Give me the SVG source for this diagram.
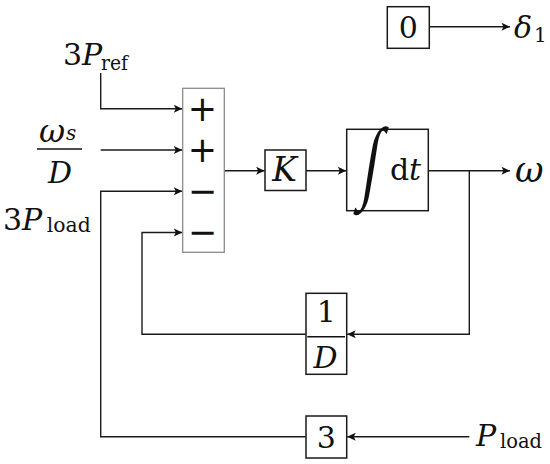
<svg xmlns="http://www.w3.org/2000/svg" width="550" height="464" viewBox="0 0 550 464">
<defs>
<style>
.t{font-family:"DejaVu Serif","Liberation Serif",serif;fill:#111}
.m{font-size:30px}
.i{font-style:italic}
.s{font-size:20px}
.pm{font-family:"DejaVu Sans",sans-serif;font-size:35px;fill:#111}
.box{fill:none;stroke:#1a1a1a;stroke-width:1.5}
.sum{fill:none;stroke:#8c8c8c;stroke-width:1.3}
.c{fill:none;stroke:#1a1a1a;stroke-width:1.4}
.bar{stroke:#111;stroke-width:1.6}
</style>
<marker id="ah" markerUnits="userSpaceOnUse" markerWidth="10" markerHeight="10" refX="9" refY="5" orient="auto">
<path d="M0.5,1 L9,5 L0.5,9 L2.5,5 Z" fill="#111"/>
</marker>
</defs>
<rect width="550" height="464" fill="#fff"/>

<g id="connectors">
<path class="c" d="M100.7,73 V108.7 H182.3" marker-end="url(#ah)"/>
<path class="c" d="M100.7,150 H182.3" marker-end="url(#ah)"/>
<path class="c" d="M305.7,436.7 H100.7 V191.3 H182.3" marker-end="url(#ah)"/>
<path class="c" d="M305.7,334.3 H142 V232.5 H182.3" marker-end="url(#ah)"/>
<path class="c" d="M224.3,170.7 H264.6" marker-end="url(#ah)"/>
<path class="c" d="M306,170.7 H346.3" marker-end="url(#ah)"/>
<path class="c" d="M428.3,170.7 H510" marker-end="url(#ah)"/>
<path class="c" d="M469.3,170.7 V334.3 H347.2" marker-end="url(#ah)"/>
<path class="c" d="M429.3,26.7 H510" marker-end="url(#ah)"/>
<path class="c" d="M469.3,436.7 H347.2" marker-end="url(#ah)"/>
</g>

<g id="in_pref">
<text class="t m" x="63" y="65">3<tspan class="i">P</tspan></text>
<text class="t s" x="101" y="70" textLength="27" lengthAdjust="spacingAndGlyphs">ref</text>
</g>

<g id="in_ws">
<text class="t i" x="39" y="142" style="font-size:32px">ω<tspan class="s" x="66" y="140">s</tspan></text>
<line class="bar" x1="37" y1="149" x2="82" y2="149"/>
<text class="t i m" x="60" y="182.7" text-anchor="middle">D</text>
</g>

<g id="in_pload3">
<text class="t m" x="3" y="230">3<tspan class="i">P</tspan></text>
<text class="t s" x="46.7" y="232.3" textLength="44" lengthAdjust="spacingAndGlyphs">load</text>
</g>

<g id="sum">
<rect class="sum" x="182.7" y="88.3" width="41.6" height="164"/>
<text class="pm" x="202.5" y="121" text-anchor="middle">+</text>
<text class="pm" x="202.5" y="161.7" text-anchor="middle">+</text>
<text class="pm" x="202.5" y="203.3" text-anchor="middle">−</text>
<text class="pm" x="202.5" y="244" text-anchor="middle">−</text>
</g>

<g id="gainK">
<rect class="box" x="265" y="150" width="41" height="40.5"/>
<text class="t i" x="284.5" y="181" style="font-size:33px" text-anchor="middle">K</text>
</g>

<g id="integrator">
<rect class="box" x="346.7" y="129.3" width="81.6" height="81.4"/>
<text font-family="Liberation Serif, serif" fill="#111" font-size="64" text-anchor="middle" transform="translate(368,190.5) scale(0.9,1.42) skewX(-14)">∫</text>
<text class="t m" x="390" y="180">d</text>
<text class="t m i" x="409" y="180">t</text>
</g>

<g id="out_w">
<text class="t i" x="515" y="182" style="font-size:35px">ω</text>
</g>

<g id="zero">
<rect class="box" x="387.3" y="6.7" width="42" height="41.6"/>
<text class="t m" x="408.3" y="38.3" text-anchor="middle">0</text>
</g>

<g id="out_delta">
<text class="t i m" x="514" y="38.3">δ</text>
<text class="t s" x="534" y="42">1</text>
</g>

<g id="invD">
<rect class="box" x="306" y="293.3" width="40.7" height="81"/>
<text class="t m" x="326.3" y="322.3" text-anchor="middle">1</text>
<line class="bar" x1="307.3" y1="336.7" x2="345" y2="336.7"/>
<text class="t i m" x="325.5" y="368.3" text-anchor="middle">D</text>
</g>

<g id="three">
<rect class="box" x="306" y="416" width="40.7" height="42"/>
<text class="t m" x="326.3" y="447.5" text-anchor="middle">3</text>
</g>

<g id="in_pload">
<text class="t i m" x="476" y="446">P</text>
<text class="t s" x="500" y="447.5" textLength="42" lengthAdjust="spacingAndGlyphs">load</text>
</g>
</svg>
